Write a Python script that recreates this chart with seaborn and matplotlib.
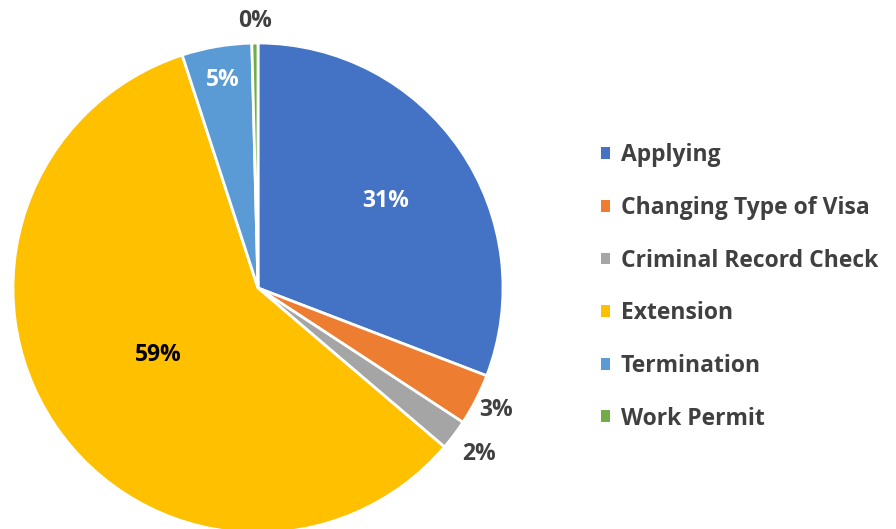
import numpy as np
import seaborn as sns
import matplotlib.pyplot as plt
from matplotlib.patches import Patch

categories = ["Applying", "Changing Type of Visa", "Criminal Record Check",
              "Extension", "Termination", "Work Permit"]
shares = [30.8, 3.4, 2.0, 58.7, 4.6, 0.4]
colors = ["#4472C4", "#ED7D31", "#A5A5A5", "#FFC000", "#5B9BD5", "#70AD47"]
label_colors = ["white", "#404040", "#404040", "black", "white", "#404040"]
label_radius = [0.63, 1.09, 1.13, 0.49, 0.86, 1.09]

sns.set_theme(style="white")
plt.rcParams["font.family"] = ["Open Sans", "DejaVu Sans"]

fig = plt.figure(figsize=(8.96, 5.29), dpi=100)
W, H = 896, 529
cx, cy, r = 258, 288, 245
pad = 1.03
ax = fig.add_axes([(cx - r * pad) / W, (H - cy - r * pad) / H,
                   2 * r * pad / W, 2 * r * pad / H])

wedges, _ = ax.pie(shares, colors=colors, startangle=90, counterclock=False,
                   wedgeprops=dict(edgecolor="white", linewidth=2))
ax.set_xlim(-pad, pad)
ax.set_ylim(-pad, pad)
ax.set_aspect("equal")
ax.axis("off")

total = sum(shares)
for w, v, c, rr in zip(wedges, shares, label_colors, label_radius):
    ang = np.deg2rad((w.theta1 + w.theta2) / 2)
    ax.text(rr * np.cos(ang), rr * np.sin(ang), f"{v / total * 100:.0f}%",
            ha="center", va="center", color=c, fontsize=16.5, fontweight="bold",
            clip_on=False)

handles = [Patch(facecolor=c, edgecolor="none") for c in colors]
fig.legend(handles, categories, loc="center left", bbox_to_anchor=(580 / W, 1 - 287 / H),
           frameon=False, handlelength=0.42, handleheight=0.42,
           handletextpad=0.45, labelspacing=1.25, prop=dict(weight="bold", size=16.5),
           labelcolor="#404040")

fig.savefig("out.png", dpi=100)
